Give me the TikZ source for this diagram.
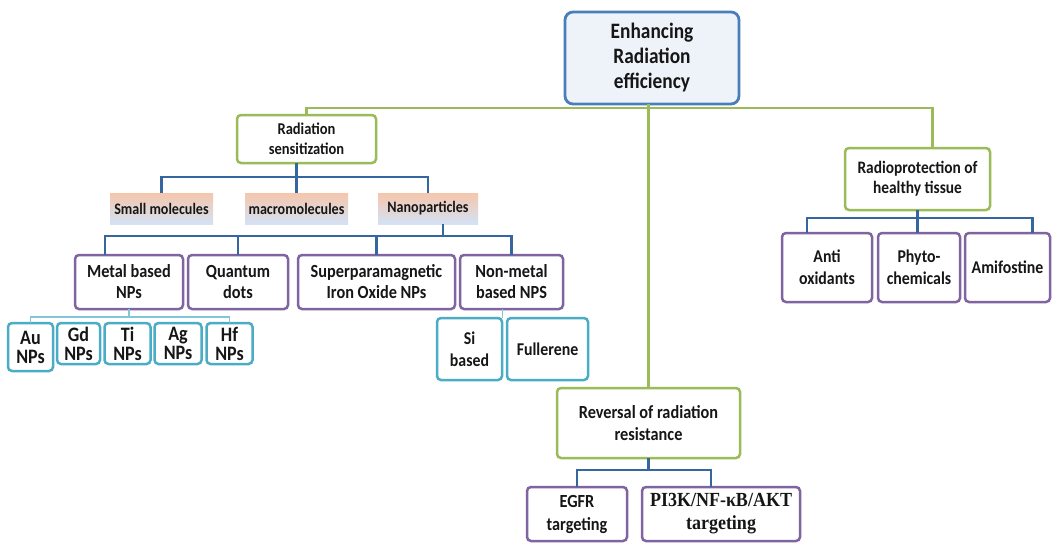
\documentclass[tikz,border=0pt]{standalone}
\usepackage{fontspec}
\setmainfont{Carlito}[FakeStretch=0.88]
\newfontfamily\serifbold{Liberation Serif}[FakeStretch=0.9]
\usetikzlibrary{positioning}
\definecolor{ink}{HTML}{161616}
\definecolor{topblue}{HTML}{4A7EBB}
\definecolor{topfill}{HTML}{EEF3FA}
\definecolor{leaf}{HTML}{9BBB59}
\definecolor{grape}{HTML}{8064A2}
\definecolor{aqua}{HTML}{4BACC6}
\definecolor{steel}{HTML}{3566A0}
\definecolor{peach}{HTML}{F6C6AC}
\definecolor{paleblue}{HTML}{D3E2F5}
\begin{document}
\begin{tikzpicture}[x=1pt,y=-1pt,
    every node/.style={align=center,inner sep=0pt,outer sep=0pt,text=ink},
    top box/.style={draw=topblue,fill=topfill,line width=2.8pt,rounded corners=8pt,font=\bfseries\fontsize{22}{25}\selectfont},
    green box/.style={draw=leaf,fill=white,line width=2.5pt,rounded corners=4pt},
    label box/.style={top color=peach,bottom color=paleblue,minimum height=31pt,font=\bfseries\fontsize{16}{19}\selectfont},
    purple box/.style={draw=grape,fill=white,line width=2.5pt,rounded corners=4pt,font=\bfseries\fontsize{18.5}{21}\selectfont},
    cyan box/.style={draw=aqua,fill=white,line width=2.5pt,rounded corners=4pt,font=\bfseries\fontsize{20.5}{19}\selectfont},
    green line/.style={draw=leaf,line width=2.5pt},
    blue line/.style={draw=steel,line width=2.5pt},
    cyan line/.style={draw=aqua!70,line width=1.5pt}]

  \useasboundingbox[fill=white] (0,0) rectangle (1056,544);

  \node[top box,minimum width=174pt,minimum height=92pt] (top) at (652,58) {Enhancing\\Radiation\\efficiency};
  \node[green box,minimum width=139pt,minimum height=48pt,font=\bfseries\fontsize{16.5}{20}\selectfont] (sens) at (306.5,139) {Radiation\\sensitization};
  \node[green box,minimum width=145pt,minimum height=62pt,font=\bfseries\fontsize{17.5}{20}\selectfont] (radio) at (917.5,179) {Radioprotection of\\healthy tissue};
  \node[green box,minimum width=183pt,minimum height=70pt,font=\bfseries\fontsize{18.5}{22}\selectfont] (rev) at (648.5,423) {Reversal of radiation\\resistance};

  \node[label box,minimum width=103pt] (small) at (161.5,208.5) {Small molecules};
  \node[label box,minimum width=103pt,right=32pt of small] (macro) {macromolecules};
  \node[label box,minimum width=100pt,right=30pt of macro] (nano) {Nanoparticles};

  \node[purple box,minimum width=108pt,minimum height=54pt] (metal) at (129,282) {Metal based\\NPs};
  \node[purple box,minimum width=100pt,minimum height=54pt,right=5pt of metal] (quantum) {Quantum\\dots};
  \node[purple box,minimum width=157pt,minimum height=54pt,right=10pt of quantum] (iron) {Superparamagnetic\\Iron Oxide NPs};
  \node[purple box,minimum width=103pt,minimum height=54pt,right=5pt of iron] (nonmetal) {Non-metal\\based NPS};

  \node[cyan box,minimum width=45pt,minimum height=48pt] (au) at (30.5,347) {Au\\NPs};
  \node[cyan box,minimum width=43pt,minimum height=41pt,right=4pt of au.north east,anchor=north west] (gd) {Gd\\NPs};
  \node[cyan box,minimum width=46pt,minimum height=41pt,right=4.5pt of gd] (ti) {Ti\\NPs};
  \node[cyan box,minimum width=47pt,minimum height=41pt,right=4pt of ti] (ag) {Ag\\NPs};
  \node[cyan box,minimum width=46pt,minimum height=41pt,right=5pt of ag] (hf) {Hf\\NPs};

  \node[cyan box,minimum width=65pt,minimum height=62pt,font=\bfseries\fontsize{18}{22}\selectfont] (si) at (469.5,349) {Si\\based};
  \node[cyan box,minimum width=81pt,minimum height=62pt,font=\bfseries\fontsize{18}{22}\selectfont,right=5pt of si] (full) {Fullerene};

  \node[purple box,minimum width=90pt,minimum height=69pt,font=\bfseries\fontsize{18}{22}\selectfont] (anti) at (827,267.5) {Anti\\oxidants};
  \node[purple box,minimum width=82pt,minimum height=69pt,font=\bfseries\fontsize{18}{22}\selectfont,right=6pt of anti] (phyto) {Phyto-\\chemicals};
  \node[purple box,minimum width=85pt,minimum height=69pt,font=\bfseries\fontsize{18}{22}\selectfont,right=5pt of phyto] (amifos) {Amifostine};

  \node[purple box,minimum width=100pt,minimum height=54pt,font=\bfseries\fontsize{18.5}{23}\selectfont] (egfr) at (577,514) {EGFR\\targeting};
  \node[purple box,minimum width=158pt,minimum height=54pt,font=\serifbold\bfseries\fontsize{20}{23}\selectfont,right=15pt of egfr] (pik) {PI3K/NF-κB/AKT\\targeting};

  \coordinate (glev) at (0,108);
  \coordinate (blev) at (0,177);
  \coordinate (nlev) at (0,236);
  \coordinate (clev) at (0,317);
  \coordinate (rlev) at (0,218);
  \coordinate (elev) at (0,470);

  \draw[green line] (sens.north) |- ([xshift=15pt]radio.north |- glev) -- ([xshift=15pt]radio.north);
  \draw[green line] (top.south -| rev.north) -- (rev.north);

  \draw[blue line] (small.north) |- (nano.north |- blev) -- (nano.north);
  \draw[blue line] (macro.north |- sens.south) -- (macro.north);
  \draw[blue line] ([xshift=15pt]nano.south) -- ([xshift=15pt]nano.south |- nlev);
  \draw[blue line] ([xshift=-24pt]metal.north) |- (nonmetal.north |- nlev) -- (nonmetal.north);
  \draw[blue line] (quantum.north |- nlev) -- (quantum.north);
  \draw[blue line] (iron.north |- nlev) -- (iron.north);
  \draw[blue line] ([xshift=-20pt]anti.north) |- ([xshift=25pt]amifos.north |- rlev) -- ([xshift=25pt]amifos.north);
  \draw[blue line] (radio.south) -- (radio.south |- phyto.north);
  \draw[blue line] (rev.south) -- (rev.south |- elev);
  \draw[blue line] (egfr.north) |- ([xshift=-10pt]pik.north |- elev) -- ([xshift=-10pt]pik.north);

  \draw[cyan line] (metal.south) -- (metal.south |- clev);
  \draw[cyan line] (au.north) |- (hf.north |- clev) -- (hf.north);
  \draw[cyan line] ([xshift=-9pt]nonmetal.south) -- ([xshift=-9pt]nonmetal.south |- si.north);
\end{tikzpicture}
\end{document}
